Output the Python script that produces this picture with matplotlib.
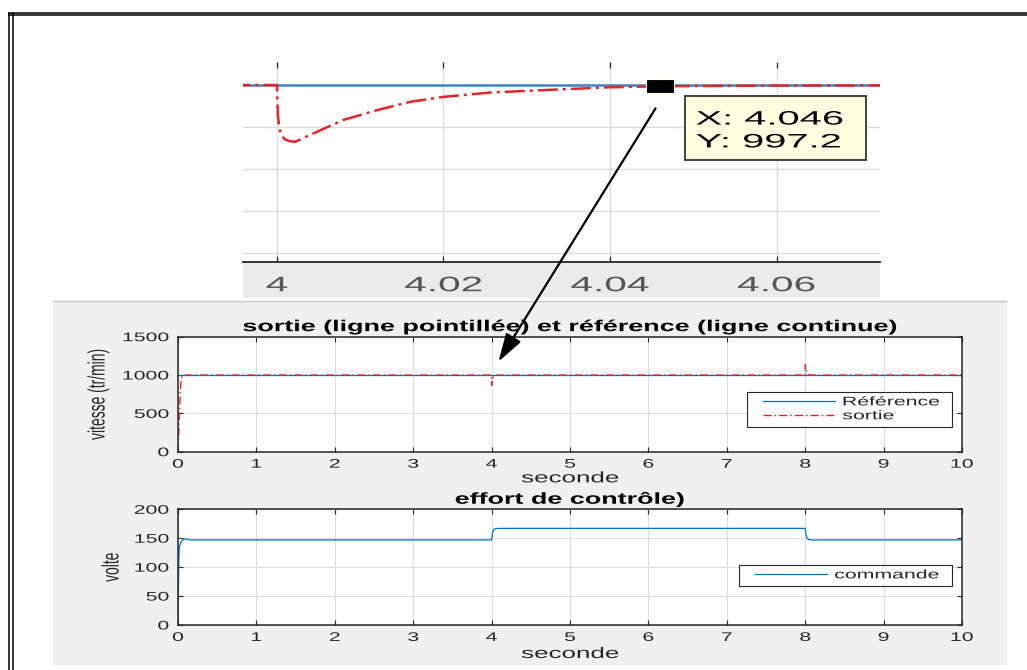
import matplotlib
matplotlib.use('Agg')
import matplotlib.pyplot as plt
from matplotlib import patheffects
from matplotlib.transforms import Affine2D
from matplotlib.patches import Rectangle, FancyArrowPatch
from matplotlib.lines import Line2D
from matplotlib.path import Path
from matplotlib.legend_handler import HandlerLine2D

# ---- data ----
t_ref = [0, 10]
ref = [1000, 1000]

t_out = [0, 0.01, 0.02, 0.03, 0.04, 0.05, 0.07, 0.1,
         4.0, 4.0001, 4.0003, 4.0006, 4.001, 4.0016, 4.0022, 4.0044, 4.008, 4.012, 4.016, 4.0201,
         4.0256, 4.0322, 4.0398, 4.0465, 4.06, 4.08, 4.15,
         8.0, 8.0001, 8.0003, 8.0006, 8.001, 8.0016, 8.0022, 8.0044, 8.008, 8.012, 8.016, 8.0201,
         8.0256, 8.0322, 8.0398, 8.0465, 8.06, 8.08, 8.15, 10]
y_out = [0, 250, 550, 800, 940, 985, 998, 1000,
         1000, 930, 895, 878, 870, 866, 865, 885, 917, 940, 960, 972,
         982, 988, 994.5, 997.2, 998.6, 999.5, 1000,
         1000, 1070, 1105, 1122, 1130, 1134, 1135, 1115, 1083, 1060, 1040, 1028,
         1018, 1012, 1005.5, 1002.8, 1001.4, 1000.5, 1000, 1000]

t_cmd = [0, 0.005, 0.01, 0.015, 0.02, 0.04, 0.07, 0.1, 0.15,
         4.0, 4.01, 4.02, 4.04, 4.08, 8.0, 8.01, 8.02, 8.04, 8.08, 10]
u_cmd = [0, 60, 110, 128, 136, 144, 148, 149, 147,
         147, 158, 163, 166, 167, 167, 157, 151, 148, 147, 147]

sec_ticks = list(range(11))
speed_ticks = [0, 500, 1000, 1500]
volt_ticks = [0, 50, 100, 150, 200]
zoom_ticks = [4, 4.02, 4.04, 4.06]
zoom_labels = ['4', '4.02', '4.04', '4.06']
zoom_grid_y = [600, 700, 800, 900, 1000]
tip_x, tip_y = 4.046, 997.2

W, H = 1027, 670
SX = 1.7  # the screenshot is stretched sideways, text too
SX_ZOOM = 1.95  # the pasted zoom crop is stretched a bit more

BLUE = '#0072BD'
RED = '#E3262B'
DARK = '#262626'

plt.rcParams['font.family'] = ['Liberation Sans', 'DejaVu Sans']
plt.rcParams['lines.scale_dashes'] = False


class Stretch(patheffects.AbstractPathEffect):
    """Widen text glyphs horizontally around one edge or the middle."""
    def __init__(self, anchor='center', sx=SX):
        super().__init__()
        self.anchor = anchor
        self.sx = sx

    def draw_path(self, renderer, gc, tpath, affine, rgbFace=None):
        ext = tpath.get_extents(affine)
        if self.anchor == 'left':
            x0 = ext.x0
        elif self.anchor == 'right':
            x0 = ext.x1
        else:
            x0 = (ext.x0 + ext.x1) / 2
        affine = affine + Affine2D().translate(-x0, 0).scale(self.sx, 1).translate(x0, 0)
        renderer.draw_path(gc, tpath, affine, rgbFace)


def px_rect(x0, y0, x1, y1):
    return [x0 / W, 1 - y1 / H, (x1 - x0) / W, (y1 - y0) / H]


def fx(x):
    return x / W


def fy(y):
    return 1 - y / H


def style_axes(ax):
    ax.grid(True, color='#DEDEDE', lw=0.8)
    ax.set_axisbelow(True)
    for s in ax.spines.values():
        s.set_color(DARK)
        s.set_linewidth(1.1)
    ax.tick_params(direction='in', length=3.6, width=0.8, color=DARK,
                   top=True, right=True, labelsize=9, labelcolor=DARK)
    ax.tick_params(axis='x', pad=5)
    ax.tick_params(axis='y', pad=6.5)
    for t in ax.get_xticklabels():
        t.set_path_effects([Stretch('center')])
    for t in ax.get_yticklabels():
        t.set_path_effects([Stretch('right')])
    ax.title.set_path_effects([Stretch('center')])
    ax.xaxis.label.set_path_effects([Stretch('center')])
    ax.yaxis.label.set_path_effects([Stretch('center')])


def add_legend(ax, x0, x1, top):
    leg = ax.legend(loc='upper left', bbox_to_anchor=(x0, top, x1 - x0, 0),
                    mode='expand', borderaxespad=0, fontsize=9,
                    handlelength=6.7, handletextpad=0.6, borderpad=0.35,
                    labelspacing=0.15, fancybox=False, framealpha=1,
                    edgecolor=DARK, handler_map={Line2D: HandlerLine2D(xpad=0.95)})
    leg.get_frame().set_linewidth(0.8)
    for t in leg.get_texts():
        t.set_path_effects([Stretch('left')])
        t.set_color(DARK)
    return leg


fig = plt.figure(figsize=(W / 100, H / 100), dpi=100)

# page frame (double line left and top)
for x in (9, 12.5):
    fig.add_artist(Line2D([fx(x), fx(x)], [fy(12.5), fy(670)], color='black', lw=1.1))
for y in (12.5, 15):
    fig.add_artist(Line2D([fx(9), fx(1027)], [fy(y), fy(y)], color='black', lw=1.1))

# matlab window background and the grey band under the zoomed axis
fig.add_artist(Rectangle((fx(53), fy(665)), (1007 - 53) / W, (665 - 301) / H,
                         facecolor='#F0F0F0', edgecolor='none', zorder=-5))
fig.add_artist(Line2D([fx(53), fx(1007)], [fy(301.5)] * 2, color='#C8C8C8', lw=1.0, zorder=-4))
fig.add_artist(Rectangle((fx(243), fy(298)), (880 - 243) / W, (298 - 262) / H,
                         facecolor='#EBEBEB', edgecolor='none', zorder=-5))

# ---- speed plot ----
ax1 = fig.add_axes(px_rect(178, 336.7, 962, 451.7))
ax1.plot(t_ref, ref, color=BLUE, lw=0.9, label='Référence')
ax1.plot(t_out, y_out, color=RED, lw=1.0, dashes=(5.8, 2.2, 1.1, 2.2), label='sortie')
ax1.set_xlim(0, 10)
ax1.set_ylim(0, 1500)
ax1.set_xticks(sec_ticks)
ax1.set_yticks(speed_ticks)
ax1.set_title('sortie (ligne pointillée) et référence (ligne continue)',
              fontsize=11.4, fontweight='bold', pad=4)
ax1.set_xlabel('seconde', fontsize=11, color=DARK)
ax1.set_ylabel('vitesse (tr/min)', fontsize=10, color=DARK)
ax1.xaxis.set_label_coords(0.5, -0.171)
ax1.yaxis.set_label_coords(-0.0931, 0.5)
style_axes(ax1)
add_legend(ax1, (747 - 178) / 784, (952 - 178) / 784, (451.7 - 392) / 115)

# ---- control effort plot ----
ax2 = fig.add_axes(px_rect(178, 509.3, 962, 625))
ax2.plot(t_cmd, u_cmd, color=BLUE, lw=0.9, label='commande')
ax2.set_xlim(0, 10)
ax2.set_ylim(0, 200)
ax2.set_xticks(sec_ticks)
ax2.set_yticks(volt_ticks)
ax2.set_title('effort de contrôle)', fontsize=11.4, fontweight='bold', pad=4)
ax2.set_xlabel('seconde', fontsize=11, color=DARK)
ax2.set_ylabel('volte', fontsize=10, color=DARK)
ax2.xaxis.set_label_coords(0.5, -0.190)
ax2.yaxis.set_label_coords(-0.0765, 0.5)
style_axes(ax2)
add_legend(ax2, (739 - 178) / 784, (952 - 178) / 784, (625 - 565) / 115.7)

# ---- zoom near t = 4 s ----
axz = fig.add_axes(px_rect(243, 62, 880, 262))
axz.plot(t_ref, ref, color='#3A86C4', lw=1.8)
axz.plot(t_out, y_out, color=RED, lw=1.8, dashes=(14.4, 3.6, 2.2, 3.6))
axz.set_xlim(3.99592, 4.07243)
axz.set_ylim(578.6, 1054.8)
axz.set_xticks(zoom_ticks)
axz.set_xticklabels(zoom_labels)
axz.set_yticks(zoom_grid_y)
axz.grid(True, color='#DADADA', lw=0.9)
axz.set_axisbelow(True)
for side in ('left', 'right', 'top'):
    axz.spines[side].set_visible(False)
axz.spines['bottom'].set_color(DARK)
axz.spines['bottom'].set_linewidth(1.3)
axz.tick_params(axis='x', direction='in', length=4.5, width=0.9, color=DARK,
                top=True, labelsize=15, labelcolor='#555555', pad=10.2)
axz.tick_params(axis='y', left=False, labelleft=False)
for t in axz.get_xticklabels():
    t.set_path_effects([Stretch('center', SX_ZOOM)])

# data tip: wide black square marker + yellow box
tip_marker = Path([(-1, -0.5), (1, -0.5), (1, 0.5), (-1, 0.5), (-1, -0.5)], closed=True)
axz.plot([tip_x], [tip_y], ls='none', marker=tip_marker, ms=20, mfc='black',
         mec='#FFFFE1', mew=0.8, clip_on=False, zorder=5)
fig.add_artist(Rectangle((fx(685), fy(160)), (866 - 685) / W, (160 - 96) / H,
                         facecolor='#FFFFE1', edgecolor='#333333', lw=1.3, zorder=3))
tip_txt = fig.text(fx(696), fy(131.5), f'X: {tip_x:g}\nY: {tip_y:g}', ha='left', va='center',
                   fontsize=14, linespacing=1.45, color='black', zorder=4)
tip_txt.set_path_effects([Stretch('left', 2.05)])

# arrow from the data tip down to the dip in the full plot
fig.add_artist(FancyArrowPatch((fx(657), fy(106)), (fx(497), fy(364)),
                               arrowstyle='-|>,head_length=1.15,head_width=0.35',
                               mutation_scale=15, lw=1.6, color='black', zorder=6))

fig.savefig('out.png', dpi=100)
